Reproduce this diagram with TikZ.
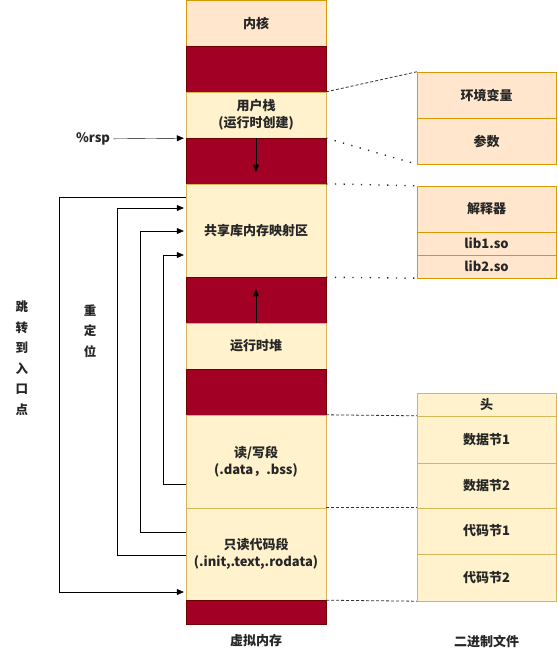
\documentclass[tikz,border=0pt]{standalone}
\usepackage{fontspec}
\setmainfont{Noto Sans CJK SC}
\usetikzlibrary{arrows.meta}
\definecolor{peach}{HTML}{FFE6CC}
\definecolor{peachline}{HTML}{D79B00}
\definecolor{cream}{HTML}{FFF2CC}
\definecolor{creamline}{HTML}{D6B656}
\definecolor{gapred}{HTML}{A20025}
\definecolor{gapline}{HTML}{6F0000}
\newcommand{\segfont}{\fontsize{13}{17}\selectfont\bfseries}
\newcommand{\stackfont}{\fontsize{12.5}{20.5}\selectfont\bfseries}
\tikzset{
  seg/.style={draw=creamline, fill=cream, minimum width=140pt, inner sep=0pt, align=center, font=\segfont, text=black!85},
  kseg/.style={seg, draw=peachline, fill=peach},
  gapseg/.style={draw=gapline, fill=gapred, minimum width=140pt, inner sep=0pt},
  fseg/.style={seg, minimum width=139pt},
  pseg/.style={kseg, minimum width=139pt},
  tip/.style={-{Triangle[length=7pt,width=6pt]}},
  dashlink/.style={densely dashed, line width=0.8pt, black!80},
  dotlink/.style={line width=1.4pt, dash pattern=on 1.2pt off 7.5pt, black!85},
}
\begin{document}
\begin{tikzpicture}[x=1pt,y=-1pt]
  \useasboundingbox (0,0) rectangle (557,660);
  % virtual memory column
  \node[kseg, minimum height=46pt] (kernel) at (256,23) {内核};
  \node[gapseg, minimum height=46pt] (gap1) at (256,69) {};
  \node[seg, minimum height=46pt] (stack) at (256,115) {用户栈\\(运行时创建)};
  \node[gapseg, minimum height=46pt] (gap2) at (256,161) {};
  \node[seg, minimum height=93pt] (shlib) at (256,230.5) {共享库内存映射区};
  \node[gapseg, minimum height=46pt] (gap3) at (256,300) {};
  \node[seg, minimum height=46pt] (heap) at (256,346) {运行时堆};
  \node[gapseg, minimum height=46pt] (gap4) at (256,392) {};
  \node[seg, minimum height=93pt] (rwseg) at (256,461.5) {读/写段\\(.data，.bss)};
  \node[seg, minimum height=92pt] (roseg) at (256,554) {只读代码段\\(.init,.text,.rodata)};
  \node[gapseg, minimum height=24pt] (gap5) at (256,612) {};
  \node[font=\segfont, text=black!85] (vmem) at (256,641) {虚拟内存};
  \draw[tip] (gap2.north) -- ++(0,34);
  \draw[tip] (gap3.south) -- ++(0,-34);

  % binary file column
  \node[pseg, minimum height=46pt] (env) at (486.5,95) {环境变量};
  \node[pseg, minimum height=46pt] (args) at (486.5,141) {参数};
  \node[pseg, minimum height=46pt] (interp) at (486.5,209) {解释器};
  \node[pseg, minimum height=23pt] (lib1) at (486.5,243.5) {lib1.so};
  \node[pseg, minimum height=23pt] (lib2) at (486.5,266.5) {lib2.so};
  \node[fseg, minimum height=23pt] (hdr) at (486.5,404.5) {头};
  \node[fseg, minimum height=47pt] (dsec1) at (486.5,439.5) {数据节1};
  \node[fseg, minimum height=45pt] (dsec2) at (486.5,485.5) {数据节2};
  \node[fseg, minimum height=46pt] (csec1) at (486.5,531) {代码节1};
  \node[fseg, minimum height=47pt] (csec2) at (486.5,577.5) {代码节2};
  \node[font=\segfont, text=black!85] (bfile) at (486.5,641) {二进制文件};

  % mapping lines
  \draw[dashlink] (stack.north east) -- (env.north west);
  \draw[dotlink] (stack.south east) -- (args.south west);
  \draw[dotlink] (shlib.north east) -- (interp.north west);
  \draw[dotlink] (shlib.south east) -- (lib2.south west);
  \draw[dashlink] (rwseg.north east) -- (dsec1.north west);
  \draw[dashlink] (roseg.north east) -- (csec1.north west);
  \draw[dashlink] (roseg.south east) -- (csec2.south west);

  % stack pointer
  \node[font=\segfont, text=black!85] (rsp) at (93,139) {\%rsp};
  \draw[tip, shorten >=2pt] (rsp) -- (stack.south west);

  % relocation and entry point
  \draw[tip, shorten >=2pt] (shlib.west |- 0,197) -- (59,197) -- (59,592) -- (roseg.west |- 0,592);
  \draw[tip, shorten >=2pt] (roseg.west |- 0,555) -| (117,208) -- (shlib.west |- 0,208);
  \draw[tip, shorten >=2pt] (roseg.west |- 0,532) -| (140,231) -- (shlib.west |- 0,231);
  \draw[tip, shorten >=2pt] (rwseg.west |- 0,484) -| (163,255) -- (shlib.west |- 0,255);
  \node[align=center, font=\stackfont, text=black!85] (jump) at (22,358) {跳\\转\\到\\入\\口\\点};
  \node[align=center, font=\stackfont, text=black!85] (reloc) at (90,331) {重\\定\\位};
\end{tikzpicture}
\end{document}
